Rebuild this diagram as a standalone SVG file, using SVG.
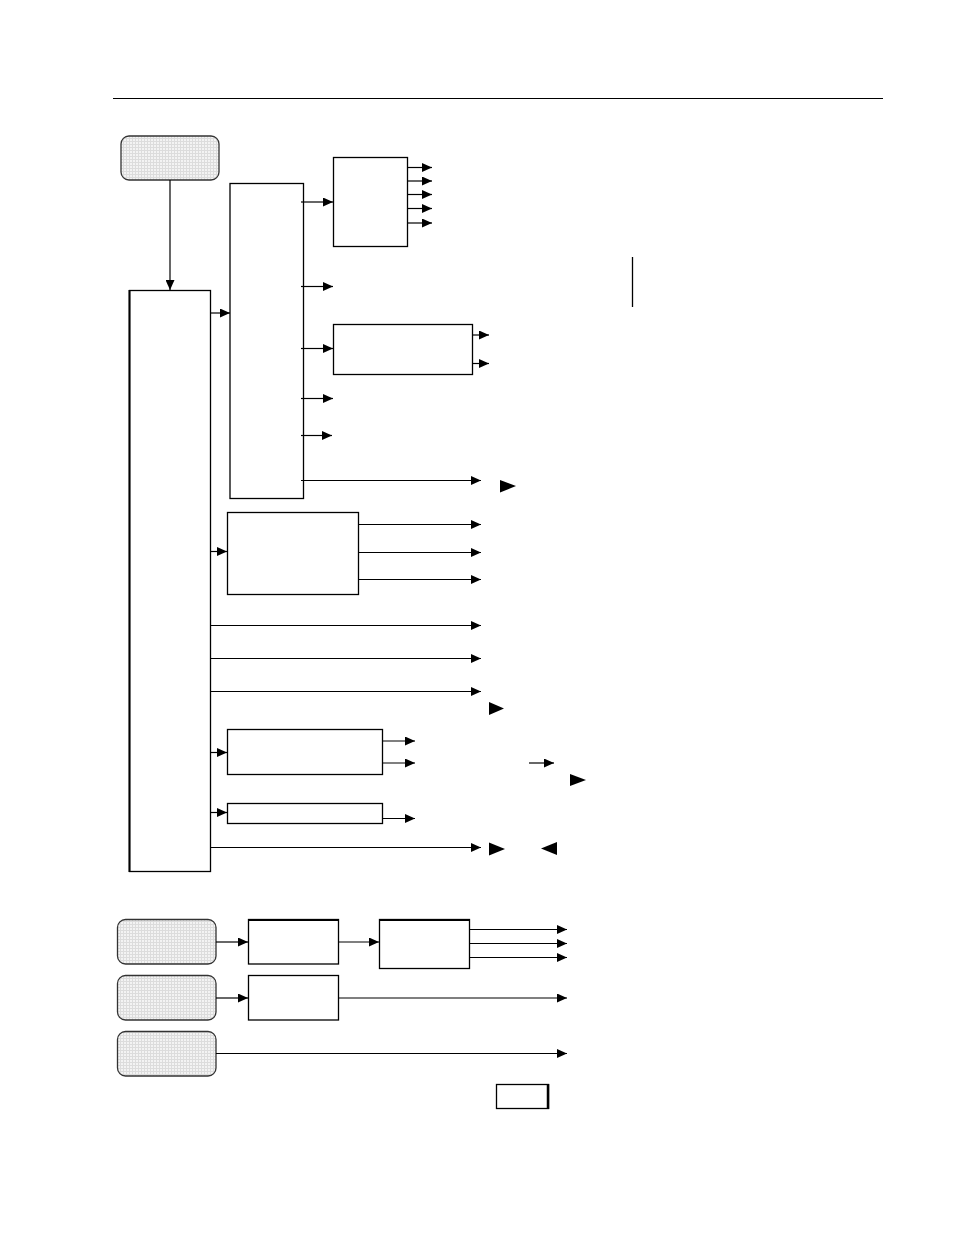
<svg xmlns="http://www.w3.org/2000/svg" width="954" height="1235" viewBox="0 0 954 1235">
<style>
.box{fill:#fff;stroke:#000;stroke-width:1.3}
.rbox{fill:url(#grid);stroke:#333;stroke-width:1.3}
.ln{stroke:#000;stroke-width:1.2;fill:none}
.arr{stroke:#000;stroke-width:1.2;fill:none;marker-end:url(#ah)}
.tri{fill:#000}
</style>
<defs>
<marker id="ah" markerUnits="userSpaceOnUse" markerWidth="10" markerHeight="9" refX="10" refY="4.5" orient="auto">
<path d="M0,0 L10,4.5 L0,9 z" fill="#000"/>
</marker>
<pattern id="grid" width="3" height="3" patternUnits="userSpaceOnUse">
<rect width="3" height="3" fill="#f3f3f3"/>
<path d="M0,0.5 H3 M0.5,0 V3" stroke="#dcdcdc" stroke-width="1"/>
</pattern>
</defs>
<rect width="954" height="1235" fill="#fff"/>
<line x1="113" y1="98.5" x2="883" y2="98.5" stroke="#000" stroke-width="1"/>

<g id="start"><rect class="rbox" x="121" y="136" width="98" height="44" rx="8"/></g>
<g id="main"><rect class="box" x="129.5" y="290.5" width="81" height="581"/><line x1="129.5" y1="290" x2="129.5" y2="872" stroke="#000" stroke-width="2"/></g>
<g id="tall"><rect class="box" x="230" y="183.5" width="73.5" height="315"/></g>
<g id="boxA"><rect class="box" x="333.5" y="157.5" width="74" height="89"/></g>
<g id="boxB"><rect class="box" x="333.5" y="324.5" width="139" height="50"/></g>
<g id="boxC"><rect class="box" x="227.5" y="512.5" width="131" height="82"/></g>
<g id="boxD"><rect class="box" x="227.5" y="729.5" width="155" height="45"/></g>
<g id="boxE"><rect class="box" x="227.5" y="803.5" width="155" height="20"/></g>
<g id="src1"><rect class="rbox" x="117.5" y="919.5" width="98.5" height="44.5" rx="8"/></g>
<g id="src2"><rect class="rbox" x="117.5" y="975.5" width="98.5" height="44.5" rx="8"/></g>
<g id="src3"><rect class="rbox" x="117.5" y="1031.5" width="98.5" height="44.5" rx="8"/></g>
<g id="boxF"><rect class="box" x="248.5" y="919.5" width="90" height="44.5"/><line x1="248" y1="920" x2="339" y2="920" stroke="#000" stroke-width="2"/></g>
<g id="boxG"><rect class="box" x="379.5" y="919.5" width="90" height="49"/><line x1="379" y1="920" x2="470" y2="920" stroke="#000" stroke-width="2"/></g>
<g id="boxH"><rect class="box" x="248.5" y="975.5" width="90" height="44.5"/></g>
<g id="small"><rect class="box" x="496.5" y="1084.5" width="52" height="24"/><line x1="548" y1="1084" x2="548" y2="1109" stroke="#000" stroke-width="2.5"/></g>
<g id="vline"><line x1="632.5" y1="257" x2="632.5" y2="307" stroke="#000" stroke-width="1.3"/></g>

<g id="connectors">
<line class="arr" x1="170" y1="180" x2="170" y2="290"/>
<line class="arr" x1="211" y1="313" x2="230" y2="313"/>
<line class="arr" x1="301" y1="202" x2="333" y2="202"/>
<line class="arr" x1="407" y1="167.5" x2="432" y2="167.5"/>
<line class="arr" x1="407" y1="181" x2="432" y2="181"/>
<line class="arr" x1="407" y1="194.5" x2="432" y2="194.5"/>
<line class="arr" x1="407" y1="208.5" x2="432" y2="208.5"/>
<line class="arr" x1="407" y1="223" x2="432" y2="223"/>
<line class="arr" x1="301" y1="286.5" x2="333" y2="286.5"/>
<line class="arr" x1="301" y1="348.5" x2="333" y2="348.5"/>
<line class="arr" x1="472" y1="335" x2="489" y2="335"/>
<line class="arr" x1="472" y1="363.5" x2="489" y2="363.5"/>
<line class="arr" x1="301" y1="398.5" x2="333" y2="398.5"/>
<line class="arr" x1="301" y1="435.5" x2="332" y2="435.5"/>
<line class="arr" x1="301" y1="480.5" x2="481" y2="480.5"/>
<path class="tri" d="M500,480 L516,486 L500,492.5 z"/>
<line class="arr" x1="211" y1="551.5" x2="227" y2="551.5"/>
<line class="arr" x1="358" y1="524.5" x2="481" y2="524.5"/>
<line class="arr" x1="358" y1="552.5" x2="481" y2="552.5"/>
<line class="arr" x1="358" y1="579.5" x2="481" y2="579.5"/>
<line class="arr" x1="211" y1="625.5" x2="481" y2="625.5"/>
<line class="arr" x1="211" y1="658.5" x2="481" y2="658.5"/>
<line class="arr" x1="211" y1="691.5" x2="481" y2="691.5"/>
<path class="tri" d="M489,702 L504,708.5 L489,715 z"/>
<line class="arr" x1="211" y1="752.5" x2="227" y2="752.5"/>
<line class="arr" x1="382" y1="741" x2="415" y2="741"/>
<line class="arr" x1="382" y1="763" x2="415" y2="763"/>
<line class="arr" x1="529" y1="763" x2="554" y2="763"/>
<path class="tri" d="M570,774 L586,780 L570,786 z"/>
<line class="arr" x1="211" y1="812.5" x2="227" y2="812.5"/>
<line class="arr" x1="382" y1="818.5" x2="415" y2="818.5"/>
<line class="arr" x1="211" y1="847.5" x2="481" y2="847.5"/>
<path class="tri" d="M489,842.5 L505,849 L489,855.5 z"/>
<path class="tri" d="M557,842 L541,848.5 L557,855 z"/>
<line class="arr" x1="216" y1="942" x2="248" y2="942"/>
<line class="arr" x1="338" y1="942" x2="379" y2="942"/>
<line class="arr" x1="469" y1="929.5" x2="567" y2="929.5"/>
<line class="arr" x1="469" y1="943.5" x2="567" y2="943.5"/>
<line class="arr" x1="469" y1="957.5" x2="567" y2="957.5"/>
<line class="arr" x1="216" y1="998" x2="248" y2="998"/>
<line class="arr" x1="338" y1="998" x2="567" y2="998"/>
<line class="arr" x1="216" y1="1053.5" x2="567" y2="1053.5"/>
</g>
</svg>
